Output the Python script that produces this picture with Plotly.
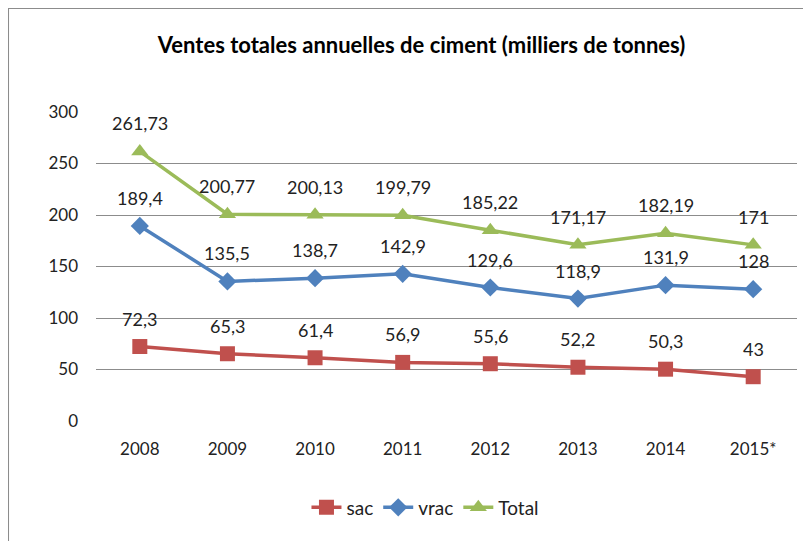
import plotly.graph_objects as go

# données
annees = ["2008", "2009", "2010", "2011", "2012", "2013", "2014", "2015*"]
sac = [72.3, 65.3, 61.4, 56.9, 55.6, 52.2, 50.3, 43]
vrac = [189.4, 135.5, 138.7, 142.9, 129.6, 118.9, 131.9, 128]
total = [261.73, 200.77, 200.13, 199.79, 185.22, 171.17, 182.19, 171]

series = [
    ("sac", sac, "#C0504D", "square"),
    ("vrac", vrac, "#4F81BD", "diamond"),
    ("Total", total, "#9BBB59", "triangle-up"),
]

police = "Lato, Open Sans, sans-serif"


def etiquette(v):
    return f"{v:g}".replace(".", ",")


fig = go.Figure()
annotations = []
for nom, valeurs, couleur, symbole in series:
    fig.add_trace(go.Scatter(
        x=annees, y=valeurs, name=nom, mode="lines+markers",
        line=dict(color=couleur, width=3.5),
        marker=dict(symbol=symbole, size=15 if symbole != "diamond" else 14, color=couleur),
    ))
    # x en indice de catégorie (sinon "2008" est lu comme un nombre)
    for i, v in enumerate(valeurs):
        annotations.append(dict(
            x=i, y=v, xref="x", yref="y", text=etiquette(v), showarrow=False,
            yshift=28, font=dict(family=police, size=18, color="#222"),
        ))

fig.update_layout(
    width=803, height=533,
    margin=dict(l=88, r=14, t=104, b=120),
    paper_bgcolor="white", plot_bgcolor="white",
    title=dict(text="<b>Ventes totales annuelles de ciment (milliers de tonnes)</b>",
               x=0.515, xanchor="center", y=0.93, yanchor="middle",
               font=dict(family=police, size=22, color="black")),
    font=dict(family=police, size=17, color="#222"),
    annotations=annotations,
    legend=dict(orientation="h", x=0.47, xanchor="center", y=-0.28, yanchor="middle",
                font=dict(family=police, size=19, color="#222")),
    showlegend=True,
    shapes=[dict(type="rect", xref="paper", yref="paper",
                 x0=-0.1255, x1=1.2, y0=-0.6, y1=1.3366,
                 line=dict(color="#8c8c8c", width=2), layer="below")],
)
fig.update_xaxes(type="category", range=[-0.5, 7.5], showgrid=False, showline=False,
                 ticks="", ticklabelstandoff=16, tickfont=dict(size=17))
fig.update_yaxes(range=[0, 300], dtick=50, showgrid=True, gridcolor="#8c8c8c",
                 gridwidth=1, zeroline=False, showline=False, ticks="",
                 ticklabelstandoff=17, tickfont=dict(size=17))

fig.write_html("out.html")
